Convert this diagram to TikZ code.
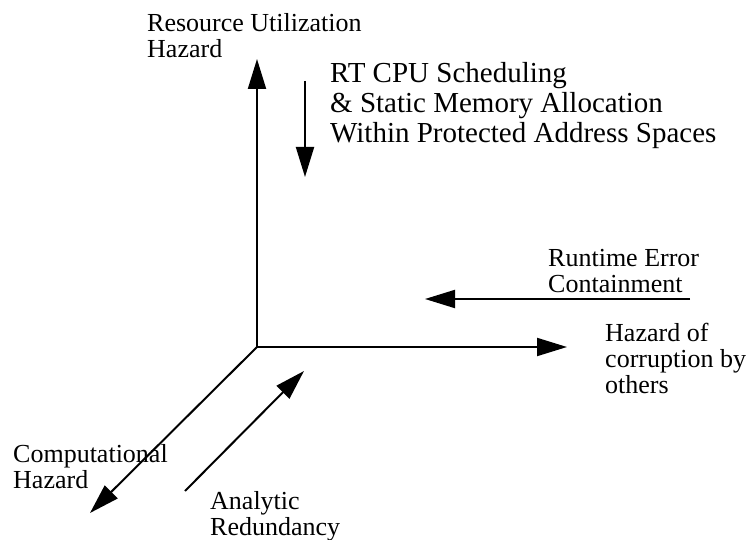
\documentclass[tikz,border=0pt]{standalone}
\usepackage{fontspec}
\setmainfont{Liberation Serif}
\usetikzlibrary{arrows.meta}
\begin{document}
\begin{tikzpicture}[x=1pt,y=-1pt,
  axis/.style={line width=2pt,-{Triangle[length=30pt,width=18pt]}},
  lbl/.style={inner sep=0pt,anchor=base west,font=\fontsize{26}{26}\selectfont},
  biglbl/.style={inner sep=0pt,anchor=base west,font=\fontsize{29}{30}\selectfont}]
\useasboundingbox (0,0) rectangle (750,540);
% axes
\coordinate (O) at (257,347);
\coordinate (upTip) at (257,59);
\coordinate (rightTip) at (567,347);
\coordinate (dlTip) at (90,513);
\draw[axis] (O) -- (upTip);
\draw[axis] (O) -- (rightTip);
\draw[axis] (O) -- (dlTip);
% side arrows
\coordinate (rtStart) at (305,81);
\coordinate (rtTip) at (305,177);
\draw[axis] (rtStart) -- (rtTip);
\coordinate (reStart) at (690,299);
\coordinate (reTip) at (425,299);
\draw[axis] (reStart) -- (reTip);
\coordinate (arStart) at (185,491);
\coordinate (arTip) at (304,371);
\draw[axis] (arStart) -- (arTip);
% labels
\node[lbl] (res) at (147,32) {\begin{tabular}[t]{@{}l@{}}Resource Utilization\\Hazard\end{tabular}};
\node[biglbl] (rt) at (330,83) {\begin{tabular}[t]{@{}l@{}}RT CPU Scheduling\\\& Static Memory Allocation\\Within Protected Address Spaces\end{tabular}};
\node[lbl] (rte) at (548,267) {\begin{tabular}[t]{@{}l@{}}Runtime Error\\Containment\end{tabular}};
\node[lbl] (hco) at (605,341) {\begin{tabular}[t]{@{}l@{}}Hazard of\\corruption by\\others\end{tabular}};
\node[lbl] (comp) at (13,462) {\begin{tabular}[t]{@{}l@{}}Computational\\Hazard\end{tabular}};
\node[lbl] (ana) at (210,509) {\begin{tabular}[t]{@{}l@{}}Analytic\\Redundancy\end{tabular}};
\end{tikzpicture}
\end{document}
